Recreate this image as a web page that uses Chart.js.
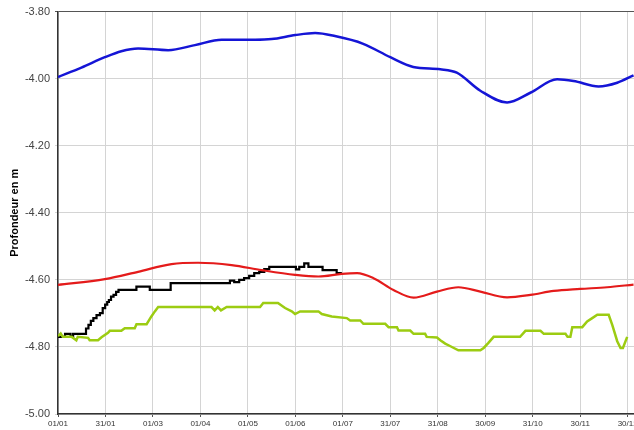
<!DOCTYPE html>
<html>
<head>
<meta charset="utf-8">
<script src="https://cdn.jsdelivr.net/npm/chart.js@4/dist/chart.umd.min.js"></script>
<style>
  html, body { margin: 0; padding: 0; background: #fff; }
  #wrap { width: 634px; height: 430px; }
</style>
</head>
<body>
<div id="wrap"><canvas id="myChart"></canvas></div>
<script>
// x axis: days since 01/01, ticks every 30 days
const tickDays = [0, 30, 60, 90, 120, 150, 180, 210, 240, 270, 300, 330, 360];
const tickLabels = ['01/01', '31/01', '01/03', '01/04', '01/05', '01/06', '01/07',
  '31/07', '31/08', '30/09', '31/10', '30/11', '30/12'];

// blue (smooth)
const blueDays = [0, 14.8, 29.6, 40, 50.6, 69.6, 86.5, 103.4, 124.5, 135, 150, 162.5, 175,
  192.9, 210, 224.5, 241.6, 252, 266.9, 283.8, 298.5, 315.4, 325.8, 341.6, 353.4, 363.7];
const blueDepth = [-3.995, -3.967, -3.936, -3.918, -3.910, -3.915, -3.900, -3.884, -3.884, -3.882,
  -3.870, -3.864, -3.873, -3.896, -3.936, -3.965, -3.972, -3.982, -4.036, -4.071,
  -4.042, -4.002, -4.007, -4.023, -4.012, -3.990];

// red (smooth)
const redDays = [0, 29.6, 50.6, 71.7, 88.5, 109.7, 128.7, 149.8, 164.6, 179.4, 189, 199.4,
  212, 224.7, 239.5, 253, 266.9, 283.8, 298.5, 313.3, 330, 347, 363.7];
const redDepth = [-4.615, -4.598, -4.576, -4.553, -4.549, -4.556, -4.571, -4.585, -4.590,
  -4.582, -4.580, -4.595, -4.630, -4.653, -4.635, -4.622, -4.635, -4.652, -4.645,
  -4.633, -4.627, -4.622, -4.614];

// black (stepped, stops early July)
const blackDays = [0, 3.6, 5.3, 7.4, 8.5, 10.6, 16.9, 18.5, 20, 21.5, 23.2, 25.5, 27.5, 29,
  30.6, 31.6, 32.7, 34.3, 35.9, 37.5, 39, 48.5, 50.6, 57, 59, 69.6, 72.8, 107.6, 109.7,
  113, 116, 119.2, 122.4, 125.6, 128.7, 132, 135, 149.8, 150.9, 154, 157.2, 159.3, 166.7,
  167.7, 175, 177.2, 179.4];
const blackDepth = [-4.770, -4.770, -4.761, -4.761, -4.768, -4.761, -4.761, -4.745, -4.734,
  -4.722, -4.714, -4.705, -4.699, -4.684, -4.674, -4.666, -4.660, -4.650, -4.645, -4.636,
  -4.630, -4.630, -4.620, -4.620, -4.630, -4.630, -4.610, -4.610, -4.602, -4.607, -4.600,
  -4.595, -4.588, -4.580, -4.576, -4.568, -4.561, -4.561, -4.569, -4.561, -4.551, -4.561,
  -4.561, -4.571, -4.571, -4.580, -4.580];

// green (stepped)
const greenDays = [0, 1.7, 3, 8.7, 11.6, 12.5, 19, 20, 25.3, 27.5, 31.6, 32.7, 40, 42.2,
  48.5, 49.6, 56, 59, 61.2, 63.3, 97, 99, 101, 103, 106.6, 127.7, 129.7, 139, 143.5,
  147.7, 149.8, 153, 164.6, 166.7, 173, 182.5, 184.6, 191, 193, 206.8, 208.9, 214.2,
  215.2, 222.6, 224.7, 232, 233, 239.5, 241.6, 244.7, 248, 253, 266.9, 269, 272,
  275.3, 292, 295.4, 304.9, 307, 320.7, 322, 323.8, 325, 331.3, 334.4, 337.6, 340.8,
  348, 350.3, 353.4, 355.5, 357, 359.7];
const greenDepth = [-4.768, -4.760, -4.770, -4.770, -4.780, -4.770, -4.773, -4.780, -4.780,
  -4.771, -4.758, -4.752, -4.752, -4.744, -4.744, -4.732, -4.732, -4.709, -4.694,
  -4.681, -4.681, -4.691, -4.681, -4.691, -4.681, -4.681, -4.669, -4.669, -4.684,
  -4.694, -4.702, -4.694, -4.694, -4.702, -4.709, -4.714, -4.721, -4.721, -4.731,
  -4.731, -4.741, -4.741, -4.751, -4.751, -4.761, -4.761, -4.770, -4.772, -4.780,
  -4.790, -4.798, -4.810, -4.810, -4.803, -4.788, -4.770, -4.770, -4.752, -4.752,
  -4.761, -4.761, -4.770, -4.770, -4.741, -4.741, -4.724, -4.714, -4.704, -4.704,
  -4.735, -4.783, -4.803, -4.803, -4.770];

const yTicks = [-5.0, -4.8, -4.6, -4.4, -4.2, -4.0, -3.8];

const toPoints = (days, vals) => days.map((d, i) => ({ x: d, y: vals[i] }));

const line = (label, days, vals, color, width, smooth, stepped) => ({
  label,
  data: toPoints(days, vals),
  borderColor: color,
  borderWidth: width,
  pointRadius: 0,
  fill: false,
  stepped: stepped || false,
  tension: smooth ? 0.4 : 0,
  cubicInterpolationMode: smooth ? 'monotone' : 'default',
});

new Chart(document.getElementById('myChart'), {
  type: 'line',
  data: {
    datasets: [
      line('blue', blueDays, blueDepth, '#1515d6', 2.5, true),
      line('red', redDays, redDepth, '#e41b1b', 2.2, true),
      line('green', greenDays, greenDepth, '#9ccc12', 2.5, false),
      line('black', blackDays, blackDepth, '#000000', 2.2, false, 'middle'),
    ],
  },
  options: {
    responsive: true,
    maintainAspectRatio: false,
    animation: false,
    layout: { padding: { top: 11, right: 0, bottom: 0, left: 0 } },
    plugins: { legend: { display: false }, tooltip: { enabled: false } },
    scales: {
      x: {
        type: 'linear',
        min: 0,
        max: 364,
        afterBuildTicks: (scale) => { scale.ticks = tickDays.map(v => ({ value: v })); },
        afterFit: (scale) => { scale.height = 16; scale.paddingLeft = 0; scale.paddingRight = 0; },
        ticks: {
          autoSkip: false,
          maxRotation: 0,
          padding: 2,
          color: '#333',
          font: { family: "'Liberation Sans Narrow', 'Liberation Sans', Arial", size: 8 },
          callback: (v) => tickLabels[tickDays.indexOf(v)],
        },
        grid: { color: '#d4d4d4', tickLength: 3, tickColor: '#555' },
        border: { color: '#333', width: 1.5 },
      },
      y: {
        min: -5.0,
        max: -3.8,
        afterBuildTicks: (scale) => { scale.ticks = yTicks.map(v => ({ value: v })); },
        afterFit: (scale) => { scale.width = 58; },
        ticks: {
          padding: 5,
          color: '#444',
          font: { family: "'Liberation Sans', Arial", size: 11 },
          callback: (v) => v.toFixed(2),
        },
        grid: {
          color: (ctx) => (ctx.tick && ctx.tick.value === -3.8 ? '#555' : '#d4d4d4'),
          tickLength: 3,
        },
        border: { color: '#333', width: 1.5 },
        title: {
          display: true,
          text: 'Profondeur en m',
          color: '#000',
          padding: { top: 8, bottom: 0 },
          font: { family: "'Liberation Sans', Arial", size: 11, weight: 'bold' },
        },
      },
    },
  },
});
</script>
</body>
</html>
